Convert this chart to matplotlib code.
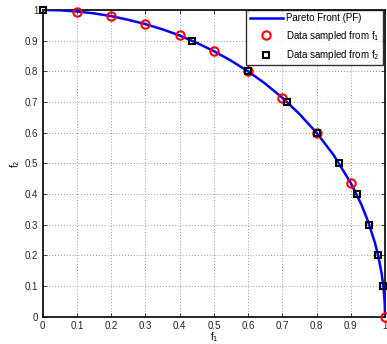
import numpy as np
import matplotlib
matplotlib.use("Agg")
import matplotlib.pyplot as plt

plt.rcParams['font.family'] = ['Liberation Sans', 'DejaVu Sans']

# Pareto front
pf_f1 = [0, 0.05, 0.1, 0.15, 0.2, 0.25, 0.3, 0.35, 0.4, 0.45, 0.5, 0.55, 0.6, 0.65,
         0.7, 0.75, 0.8, 0.85, 0.9, 0.93, 0.95, 0.97, 0.98, 0.99, 0.995, 0.999, 1.0]
pf_f2 = [1.0, 0.999, 0.995, 0.989, 0.980, 0.968, 0.954, 0.937, 0.917, 0.893, 0.866, 0.835,
         0.8, 0.760, 0.714, 0.661, 0.6, 0.527, 0.436, 0.368, 0.312, 0.243, 0.199, 0.141,
         0.100, 0.045, 0.0]

# samples taken from f1
s1_f1 = [0.1, 0.2, 0.3, 0.4, 0.5, 0.6, 0.7, 0.8, 0.9, 1.0]
s1_f2 = [0.995, 0.980, 0.954, 0.917, 0.866, 0.8, 0.714, 0.6, 0.436, 0.0]

# samples taken from f2
s2_f1 = [0.995, 0.980, 0.954, 0.917, 0.866, 0.8, 0.714, 0.6, 0.436, 0.0]
s2_f2 = [0.1, 0.2, 0.3, 0.4, 0.5, 0.6, 0.7, 0.8, 0.9, 1.0]

ticks = [0, 0.1, 0.2, 0.3, 0.4, 0.5, 0.6, 0.7, 0.8, 0.9, 1]
tick_labels = ['0', '0.1', '0.2', '0.3', '0.4', '0.5', '0.6', '0.7', '0.8', '0.9', '1']

fig = plt.figure(figsize=(3.87, 3.44), dpi=100)
ax = fig.add_axes([0.110, 0.079, 0.885, 0.892])

ax.plot(pf_f1, pf_f2, '-', color='#0000ff', lw=1.8, label='Pareto Front (PF)', zorder=3)
ax.plot(s1_f1, s1_f2, 'o', mfc='none', mec='#ff0000', mew=1.5, ms=6,
        label='Data sampled from f$_1$', clip_on=False, zorder=4)
ax.plot(s2_f1, s2_f2, 's', mfc='none', mec='black', mew=1.5, ms=5,
        label='Data sampled from f$_2$', clip_on=False, zorder=5)

ax.set_xlim(0, 1)
ax.set_ylim(0, 1)
ax.set_xticks(ticks)
ax.set_xticklabels(tick_labels)
ax.set_yticks(ticks)
ax.set_yticklabels(tick_labels)
ax.tick_params(direction='in', length=3, width=0.6, labelsize=7, top=True, right=True,
               pad=3, colors='#262626')
ax.grid(True, linestyle=(0, (1, 2.5)), color='#777777', lw=0.6)
for sp in ax.spines.values():
    sp.set_linewidth(1.2)
    sp.set_color('black')

ax.set_xlabel('f$_1$', fontsize=7)
ax.xaxis.set_label_coords(0.5, -0.045)
ax.set_ylabel('f$_2$', fontsize=7, labelpad=2)

leg = ax.legend(loc='upper right', fontsize=7, frameon=True, fancybox=False,
                borderaxespad=0.0, handlelength=3.4, handletextpad=0.4,
                labelspacing=0.55, borderpad=0.35,
                bbox_to_anchor=(0.995, 1.0))
leg.get_frame().set_edgecolor('black')
leg.get_frame().set_linewidth(1.0)
leg.set_zorder(10)

fig.savefig('out.png', dpi=100)
